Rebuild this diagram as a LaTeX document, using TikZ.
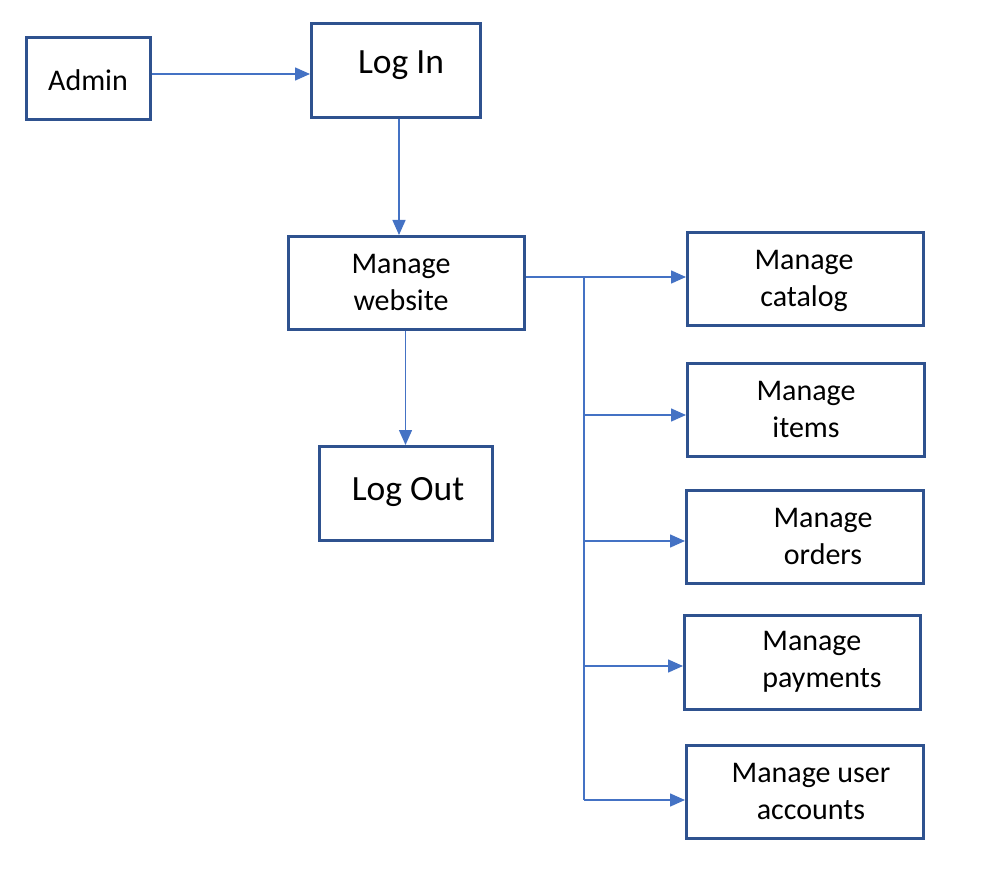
\documentclass[tikz,border=0pt]{standalone}
\usepackage{fontspec}
\setmainfont{Carlito}
\usetikzlibrary{arrows.meta}
\definecolor{boxblue}{HTML}{2F528F}
\definecolor{arrowblue}{HTML}{4472C4}
\tikzset{
  box/.style={draw=boxblue, line width=3pt, inner sep=0pt, fill=white},
  lbl/.style={inner sep=0pt, align=center, font=\fontsize{30}{37}\selectfont},
  biglbl/.style={inner sep=0pt, align=center, font=\fontsize{35.5}{42}\selectfont},
  conn/.style={draw=arrowblue, line width=1.5pt, -{Triangle[length=15pt,width=13pt]}},
  trunkline/.style={draw=arrowblue, line width=1.5pt}
}
\begin{document}
\begin{tikzpicture}[x=1pt,y=-1pt]
\useasboundingbox (0,0) rectangle (984,882);
% boxes
\node[box, minimum width=124.5pt, minimum height=82pt] (admin) at (88.5,78.5) {};
\node[box, minimum width=169pt, minimum height=94pt] (login) at (396,70.5) {};
\node[box, minimum width=236pt, minimum height=93pt] (website) at (406.5,283) {};
\node[box, minimum width=173pt, minimum height=94pt] (logout) at (406,493.5) {};
\node[box, minimum width=236pt, minimum height=93pt] (catalog) at (805.5,279) {};
\node[box, minimum width=237pt, minimum height=93pt] (items) at (806,410) {};
\node[box, minimum width=237pt, minimum height=93pt] (orders) at (805,537) {};
\node[box, minimum width=236pt, minimum height=94pt] (payments) at (802.5,662.5) {};
\node[box, minimum width=237pt, minimum height=93pt] (users) at (805,792) {};
% labels
\node[lbl] (tadmin) at (88,80) {Admin};
\node[biglbl] (tlogin) at (401,65) {Log In};
\node[lbl] (twebsite) at (401,282) {Manage\\website};
\node[biglbl] (tlogout) at (408,492) {Log Out};
\node[lbl] (tcatalog) at (804,281) {Manage\\catalog};
\node[lbl] (titems) at (806,409) {Manage\\items};
\node[lbl] (torders) at (823,536) {Manage\\orders};
\node[lbl, align=left] (tpayments) at (822,662) {Manage\\payments};
\node[lbl] (tusers) at (811,791) {Manage user\\accounts};
% connectors
\draw[conn] ([yshift=4.5pt]admin.east) -- ([yshift=4.5pt]admin.east -| login.west);
\draw[conn] ([xshift=3pt]login.south) -- ([xshift=3pt]login.south |- website.north);
\draw[conn] ([xshift=-1pt]website.south) -- ([xshift=-1pt]website.south |- logout.north);
\coordinate (trunk) at (584,277);
\coordinate (b1) at (584,415);
\coordinate (b2) at (584,541);
\coordinate (b3) at (584,666);
\coordinate (b4) at (584,800);
\draw[conn] (website.east |- trunk) -- (catalog.west |- trunk);
\draw[trunkline] (trunk) -- (b4);
\draw[conn] (b1) -- (items.west |- b1);
\draw[conn] (b2) -- (orders.west |- b2);
\draw[conn] (b3) -- (payments.west |- b3);
\draw[conn] (b4) -- (users.west |- b4);
\end{tikzpicture}
\end{document}
